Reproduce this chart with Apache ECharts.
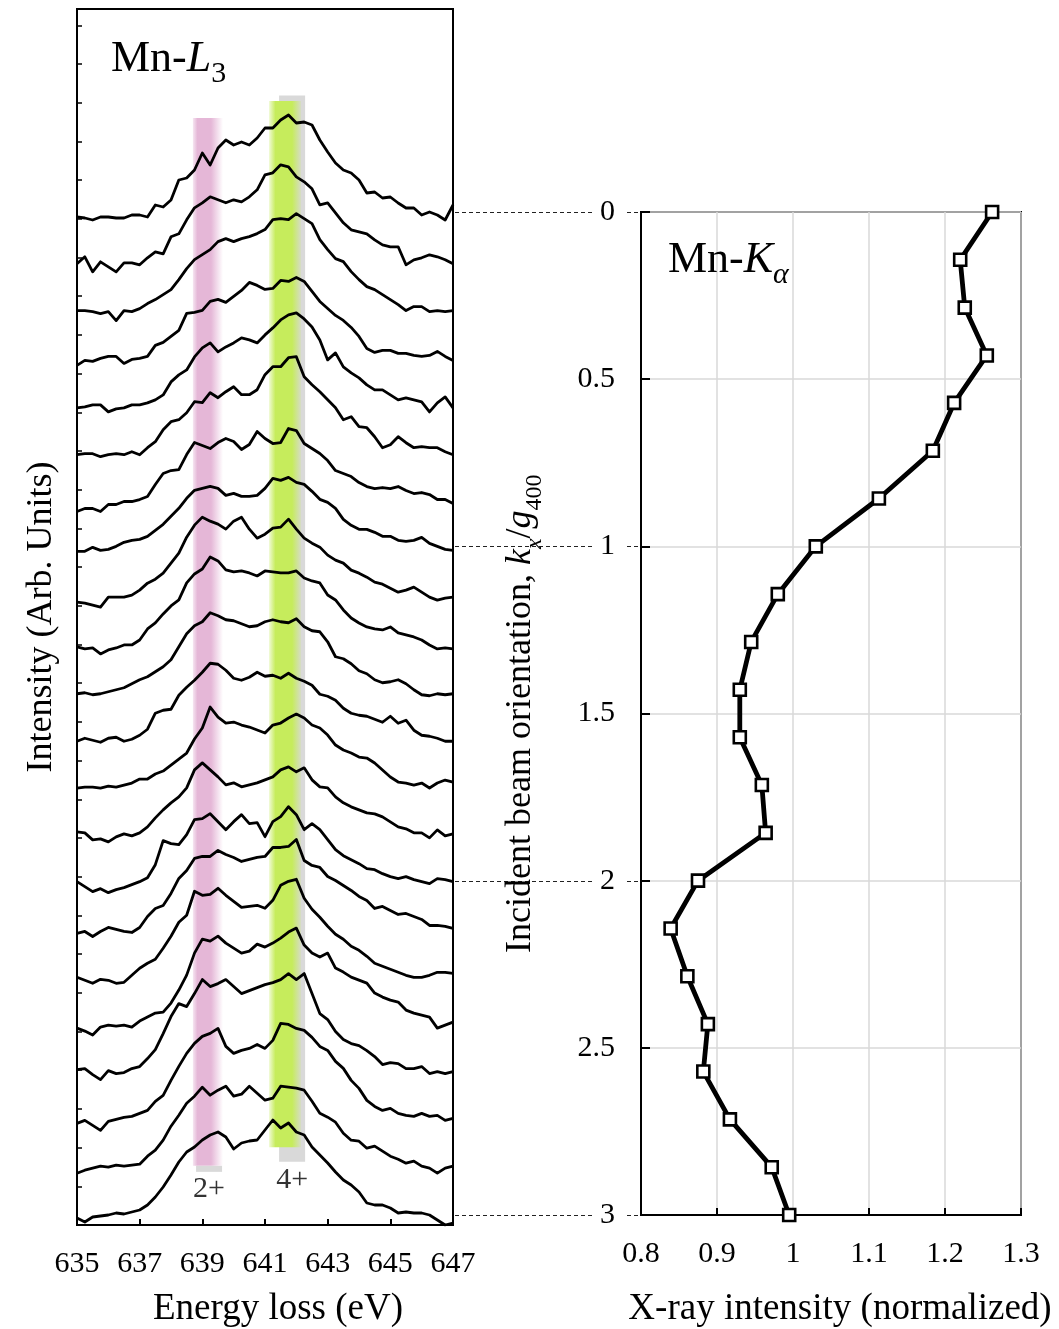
<!DOCTYPE html>
<html><head><meta charset="utf-8">
<script src="https://cdn.jsdelivr.net/npm/echarts@6/dist/echarts.min.js"></script>
<style>html,body{margin:0;padding:0;background:#fff}#c{width:1059px;height:1329px}</style>
</head><body><div id="c"></div>
<script>
// ---------------- data ----------------
const energy = [635,635.25,635.5,635.75,636,636.25,636.5,636.75,637,637.25,637.5,637.75,638,638.25,638.5,638.75,639,639.25,639.5,639.75,640,640.25,640.5,640.75,641,641.25,641.5,641.75,642,642.25,642.5,642.75,643,643.25,643.5,643.75,644,644.25,644.5,644.75,645,645.25,645.5,645.75,646,646.25,646.5,646.75,647];
// incident beam orientation kx/g400 of each spectrum / X-ray point
const orientation = [0,0.143,0.286,0.429,0.571,0.714,0.857,1,1.143,1.286,1.429,1.571,1.714,1.857,2,2.143,2.286,2.429,2.571,2.714,2.857,3];
// Mn-K alpha X-ray intensity (normalized)
const xrayIntensity = [1.262,1.220,1.226,1.255,1.212,1.184,1.113,1.030,0.980,0.945,0.930,0.930,0.959,0.964,0.875,0.839,0.861,0.888,0.882,0.917,0.972,0.995];
// Mn-L3 EELS spectra (arb. units, above each spectrum's own baseline), one row per orientation
const spectra = [
[-5,-6,-8,-5,-5,-6,-6,-3,-3,-5,7,5,12,32,34,42,59,47,64,72,67,70,67,74,84,84,92,97,89,90,87,72,60,49,42,39,32,19,20,14,15,9,4,4,-3,0,-3,-8,7],
[-4,3,-12,-2,-7,-12,-3,-3,-5,2,8,6,23,26,40,52,57,63,60,57,60,58,63,70,85,87,95,93,83,78,71,55,57,47,37,30,28,26,20,15,13,13,-5,0,2,5,3,0,-4],
[-3,-3,-4,-6,-4,-13,-3,-4,-1,4,8,13,18,28,39,48,53,58,66,69,66,69,71,74,78,88,89,88,94,89,84,68,58,49,46,36,28,21,18,13,8,3,-3,1,1,-4,-3,-4,-3],
[-10,-5,-6,-3,-1,-1,-8,-4,-3,-1,10,13,19,25,42,43,45,54,56,53,59,65,73,70,66,67,75,74,78,74,64,54,47,40,35,28,19,7,3,5,5,2,2,0,-1,0,4,-1,-5],
[-5,-4,-2,-2,-9,-6,-5,-2,-2,0,3,8,21,28,33,46,55,60,51,56,60,65,63,60,68,75,83,88,90,84,76,63,43,50,36,30,25,18,13,13,8,3,5,3,1,-9,0,6,-5],
[-4,-3,-3,-6,-4,-3,-4,-1,-4,3,9,21,29,31,38,49,48,58,53,59,64,56,56,61,76,84,84,93,94,74,66,59,51,43,31,34,24,23,14,3,6,14,8,3,4,3,3,-1,-4],
[-13,-10,-10,-13,-6,-6,-3,-3,-1,2,14,25,28,29,44,56,53,50,56,60,57,49,54,67,60,55,56,70,68,55,50,45,38,28,25,22,16,12,10,11,10,12,8,5,6,4,-1,-1,-5],
[-5,-5,-1,-4,-3,0,4,6,7,10,16,22,30,38,48,56,58,60,58,51,53,50,50,51,58,68,66,69,64,62,55,47,44,38,27,21,17,17,14,10,10,6,5,6,9,3,0,-3,-4],
[-8,-9,-11,-13,-3,-3,-3,-1,4,11,15,21,31,41,57,69,77,73,70,65,73,77,65,56,60,66,67,75,65,56,51,47,39,34,31,24,21,17,12,10,6,2,4,7,2,-3,-6,-4,-3],
[-5,-7,-6,-12,-8,-6,-3,-3,2,13,19,28,36,42,59,68,73,85,81,72,70,71,69,66,71,70,69,69,71,64,61,59,47,42,32,24,19,15,13,12,15,9,7,5,2,-3,-7,-6,-7],
[-4,-3,-5,-4,-2,0,2,6,10,13,18,23,30,43,56,64,68,77,74,70,69,66,63,64,68,70,68,67,71,63,59,58,48,33,31,26,19,16,10,7,8,10,6,0,-5,-6,-4,-5,-4],
[-4,-1,-3,-5,-1,0,-4,-2,2,8,24,27,28,42,50,57,65,74,73,67,59,57,60,65,61,62,59,64,59,56,52,43,41,37,29,24,22,21,18,15,21,14,17,7,2,1,-1,-4,-4],
[-3,-2,-2,-3,-1,-2,0,2,6,6,11,14,20,26,32,46,57,78,68,62,63,60,58,55,52,60,62,67,71,67,60,57,50,40,35,32,28,27,22,15,8,3,2,0,2,-3,2,5,3],
[1,0,-7,-6,-9,-4,-1,-3,0,6,15,23,30,36,45,63,70,63,56,48,50,46,48,50,53,56,63,66,61,65,53,46,45,36,30,26,23,20,19,16,11,6,4,0,0,-5,3,-3,-1],
[-1,-6,-11,-8,-12,-9,-7,-4,-1,3,16,40,37,36,46,61,62,67,59,51,59,66,57,58,44,59,64,74,66,51,57,51,41,31,25,21,17,12,11,7,4,2,4,1,-1,-3,2,1,-1],
[-5,-3,-8,-3,1,-1,-3,-4,1,12,20,23,35,50,58,70,72,72,78,74,71,67,69,71,72,81,81,82,89,68,63,61,52,48,43,38,32,28,20,22,18,14,15,12,9,3,3,2,0],
[-1,-4,-7,-3,-4,-7,-6,1,8,13,17,28,40,54,61,85,81,82,88,81,75,69,70,71,68,76,91,95,97,78,67,59,50,42,37,30,26,20,13,10,7,4,1,-1,-1,1,4,4,3],
[-4,-7,-11,-3,-1,-2,-1,-3,3,7,11,12,21,34,49,71,85,83,88,81,76,71,73,80,77,81,86,92,96,79,71,67,71,56,52,47,44,41,31,27,24,22,14,11,9,7,-4,-1,2],
[2,3,-3,-8,1,-2,-1,3,5,13,22,38,55,68,65,78,92,85,88,92,85,78,81,84,87,89,92,98,92,98,78,58,52,40,32,28,26,21,15,7,9,8,3,3,5,-2,0,-2,0],
[-4,-1,-6,-11,-2,0,2,3,6,9,18,24,39,53,66,76,83,86,91,73,66,69,71,75,71,79,96,95,91,89,82,73,69,58,51,39,31,19,13,9,11,6,4,3,6,3,4,-1,1],
[-6,-3,-1,1,0,2,1,2,3,11,17,27,41,52,64,71,80,72,77,81,71,73,81,74,67,69,81,80,79,77,66,54,50,45,34,27,26,19,21,16,11,8,4,6,1,-1,-6,-1,1],
[-3,-7,-2,-1,0,2,1,3,5,10,18,28,40,53,63,68,75,80,83,78,66,72,74,75,85,95,87,92,83,80,68,60,52,43,35,30,23,12,10,10,7,2,3,2,2,0,-5,-10,-8]
];
// energy windows marking Mn2+ / Mn4+ (eV) and their vertical extent (orientation units)
const bandFrom   = [638.70, 638.80, 641.45, 641.13];
const bandTo     = [639.66, 639.63, 642.28, 642.15];
const bandTop    = [-0.281, 2.853, -0.3485, -0.332];
const bandBottom = [2.853, 2.871, 2.841, 2.797];
const bandLabel  = ['', '2+', '4+', ''];
const connectorKs = [0, 1, 2, 3];

// ---------------- layout / style ----------------
const F = '"Liberation Serif","Times New Roman",serif';
const L = {left:77, right:453, top:9, bottom:1225};
const R = {left:641, right:1021, top:212, bottom:1215};
const kPerPx = 3 / (R.bottom - R.top);
const leftMin = -(R.top - L.top) * kPerPx;
const leftMax = 3 + (L.bottom - R.bottom) * kPerPx;
const STACK = kPerPx;            // intensity units -> orientation units
const Y_LABEL_MARGIN = 26;
const TICK_FONT = 30;

const pinkFill = new echarts.graphic.LinearGradient(0,0,1,0,[
  {offset:0, color:'rgba(229,183,215,0.35)'},{offset:0.15,color:'rgb(229,183,215)'},
  {offset:0.6, color:'rgb(229,183,215)'},{offset:1,color:'rgba(229,183,215,0)'}]);
const greenFill = new echarts.graphic.LinearGradient(0,0,1,0,[
  {offset:0, color:'rgba(198,236,92,0.25)'},{offset:0.2,color:'rgb(198,236,92)'},
  {offset:0.72, color:'rgb(198,236,92)'},{offset:1,color:'rgba(198,236,92,0.15)'}]);
const bandFills = [pinkFill, '#d9d9d9', '#d9d9d9', greenFill];
const bandLabelGap = [0, 2, 3, 0];

const chart = echarts.init(document.getElementById('c'), null, {renderer:'canvas'});

const spectrumSeries = spectra.map((row, i) => ({
  type:'line', xAxisIndex:0, yAxisIndex:0, silent:true, animation:false,
  showSymbol:false, symbol:'none', z:3,
  lineStyle:{color:'#000', width:2.8, join:'round'},
  data: energy.map((e, j) => [e, orientation[i] - row[j] * STACK])
}));

const subRich = (size, italic) => ({fontSize:size, fontFamily:F, color:'#000', lineHeight:size, fontWeight:'normal',
  verticalAlign:'bottom', fontStyle: italic ? 'italic' : 'normal'});
const mainRich = (size, italic) => ({fontSize:size, fontFamily:F, color:'#000', lineHeight:size, fontWeight:'normal',
  verticalAlign:'top', fontStyle: italic ? 'italic' : 'normal'});
const spacerRich = (h) => ({fontSize:1, lineHeight:h, verticalAlign:'top', color:'rgba(0,0,0,0)'});

const option = {
  backgroundColor:'#fff',
  animation:false,
  title:[
    {text:'{m|Mn-}{i|L}{s|3}{sp| }', left:106, top:32,
     textStyle:{fontWeight:'normal', fontFamily:F, rich:{m:mainRich(44,false), i:mainRich(44,true), s:subRich(30,false), sp:spacerRich(52)}}},
    {text:'{m|Mn-}{i|K}{s|α}{sp| }', left:663, top:233,
     textStyle:{fontWeight:'normal', fontFamily:F, rich:{m:mainRich(44,false), i:mainRich(44,true), s:subRich(30,true), sp:spacerRich(52)}}}
  ],
  grid:[
    {left:L.left, top:L.top, width:L.right-L.left, height:L.bottom-L.top, show:true, borderColor:'#000', borderWidth:2,
     backgroundColor:'transparent', containLabel:false, outerBoundsMode:'none'},
    {left:R.left, top:R.top, width:R.right-R.left, height:R.bottom-R.top, show:true, borderColor:'#000', borderWidth:2,
     backgroundColor:'transparent', containLabel:false, outerBoundsMode:'none'}
  ],
  xAxis:[
    {gridIndex:0, type:'value', min:635, max:647, interval:2,
     axisLine:{show:true, onZero:false, lineStyle:{color:'#000', width:2}},
     axisTick:{show:true, inside:true, length:6, lineStyle:{color:'#000', width:2}},
     axisLabel:{show:true, fontFamily:F, fontSize:TICK_FONT, color:'#000', margin:24, showMinLabel:true, showMaxLabel:true},
     splitLine:{show:false},
     name:'Energy loss (eV)', nameLocation:'middle', nameGap:66,
     nameTextStyle:{fontFamily:F, fontSize:37, color:'#000', padding:[0,0,0,26]}},
    {gridIndex:1, type:'value', min:0.8, max:1.3, interval:0.1,
     axisLine:{show:true, onZero:false, lineStyle:{color:'#000', width:2}},
     axisTick:{show:true, inside:true, length:7, lineStyle:{color:'#000', width:2}},
     axisLabel:{show:true, fontFamily:F, fontSize:TICK_FONT, color:'#000', margin:24, showMinLabel:true, showMaxLabel:true},
     splitLine:{show:true, lineStyle:{color:'#d9d9d9', width:1.5}},
     name:'X-ray intensity (normalized)', nameLocation:'middle', nameGap:76,
     nameTextStyle:{fontFamily:F, fontSize:37, color:'#000', padding:[0,0,0,18]}}
  ],
  yAxis:[
    {gridIndex:0, type:'value', inverse:true, min:leftMin, max:leftMax, show:false},
    {gridIndex:0, type:'value', position:'left', min:0, max:(L.bottom-L.top)/38.7, interval:1,
     axisLine:{show:true, onZero:false, lineStyle:{color:'#000', width:2}},
     axisTick:{show:true, inside:true, length:5, lineStyle:{color:'#000', width:1.5}},
     axisLabel:{show:false}, splitLine:{show:false},
     name:'Intensity (Arb. Units)', nameLocation:'middle', nameGap:17, nameRotate:90,
     nameTextStyle:{fontFamily:F, fontSize:36, color:'#000'}},
    {gridIndex:1, type:'value', position:'left', inverse:true, min:0, max:3, interval:0.5,
     axisLine:{show:true, onZero:false, lineStyle:{color:'#000', width:2}},
     axisTick:{show:true, inside:true, length:9, lineStyle:{color:'#000', width:2}},
     axisLabel:{show:true, fontFamily:F, fontSize:TICK_FONT, color:'#000', margin:Y_LABEL_MARGIN, showMinLabel:true, showMaxLabel:true},
     splitLine:{show:true, lineStyle:{color:'#d9d9d9', width:1.5}},
     name:'{n|Incident beam orientation, }{i|k}{sx|x}{n|/}{i|g}{s|400}{sp| }',
     nameLocation:'middle', nameGap:94, nameRotate:90,
     nameTextStyle:{rich:{n:mainRich(36,false), i:mainRich(36,true), sx:subRich(24,true), s:subRich(24,false), sp:spacerRich(44)}}}
  ],
  series:[
    {type:'custom', xAxisIndex:0, yAxisIndex:0, silent:true, z:1,
     data: bandFrom.map((f, i) => [f, bandTop[i], bandTo[i], bandBottom[i]]),
     encode:{x:[0,2], y:[1,3]},
     renderItem:(params, api) => {
       const i = params.dataIndex;
       const p0 = api.coord([api.value(0), api.value(1)]);
       const p1 = api.coord([api.value(2), api.value(3)]);
       const x = Math.min(p0[0], p1[0]), y = Math.min(p0[1], p1[1]);
       const w = Math.abs(p1[0]-p0[0]), h = Math.abs(p1[1]-p0[1]);
       const children = [{type:'rect', shape:{x, y, width:w, height:h}, style:{fill:bandFills[i]}}];
       if (bandLabel[i]) children.push({type:'text', style:{text:bandLabel[i], x:x+w/2, y:y+h+bandLabelGap[i],
         align:'center', verticalAlign:'top', font:'30px ' + F, fill:'#333'}});
       return {type:'group', children};
     }},
    ...spectrumSeries,
    {type:'line', xAxisIndex:1, yAxisIndex:2, silent:true, z:5,
     data: orientation.map((k, i) => [xrayIntensity[i], k]),
     lineStyle:{color:'#000', width:4.8},
     symbol:'rect', symbolSize:12, showSymbol:true,
     itemStyle:{color:'#fff', borderColor:'#000', borderWidth:2.6}}
  ]
};
chart.setOption(option);

// dashed connectors from each orientation tick of the X-ray panel to the EELS panel
(function drawConnectors(){
  const xL = chart.convertToPixel({xAxisIndex:0}, 647);
  const xR = chart.convertToPixel({xAxisIndex:1}, 0.8);
  const ctx = document.createElement('canvas').getContext('2d');
  ctx.font = TICK_FONT + 'px ' + F;
  const els = [];
  connectorKs.forEach(k => {
    const y = Math.round(chart.convertToPixel({yAxisIndex:2}, k)) + 0.5;
    const w = ctx.measureText(String(k)).width;
    const labRight = xR - Y_LABEL_MARGIN, labLeft = labRight - w;
    const st = {stroke:'#222', lineWidth:1.2, lineDash:[4,3]};
    els.push({type:'line', silent:true, shape:{x1:xL+2, y1:y, x2:labLeft-8, y2:y}, style:st});
    els.push({type:'line', silent:true, shape:{x1:labRight+12, y1:y, x2:xR-1, y2:y}, style:st});
  });
  chart.setOption({graphic:els});
})();
</script>
</body></html>
